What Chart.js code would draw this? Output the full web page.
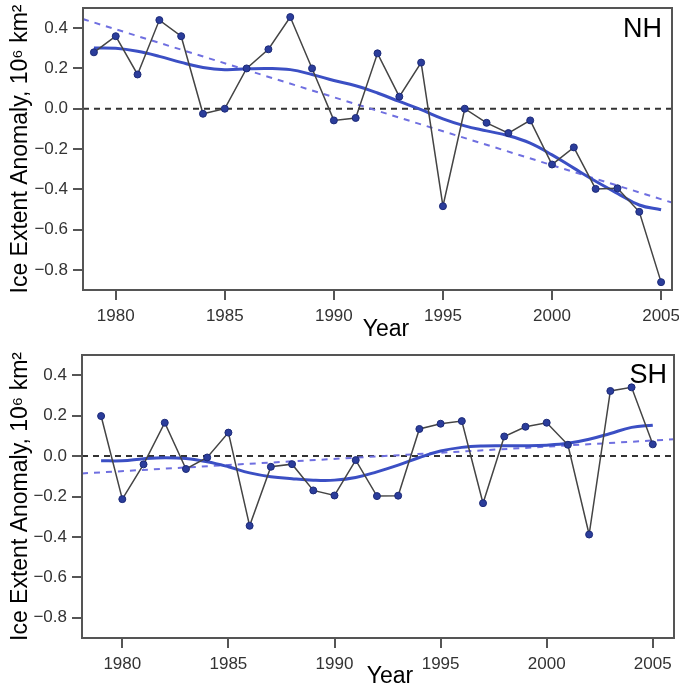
<!DOCTYPE html>
<html>
<head>
<meta charset="utf-8">
<script src="https://cdn.jsdelivr.net/npm/chart.js@4.4.1/dist/chart.umd.min.js"></script>
<style>
body { margin: 0; background: #fff; width: 679px; height: 684px; overflow: hidden; position: relative; }
canvas { position: absolute; left: 0; }
#nhChart { top: 0; }
#shChart { top: 340px; }
</style>
</head>
<body>
<canvas id="nhChart" width="679" height="340"></canvas>
<canvas id="shChart" width="679" height="344"></canvas>
<script>
var years = [1979, 1980, 1981, 1982, 1983, 1984, 1985, 1986, 1987, 1988, 1989, 1990, 1991, 1992,
	1993, 1994, 1995, 1996, 1997, 1998, 1999, 2000, 2001, 2002, 2003, 2004, 2005];

// northern hemisphere
var nhValues = [0.28, 0.36, 0.17, 0.44, 0.36, -0.025, 0.0, 0.20, 0.295, 0.455, 0.20, -0.058, -0.046, 0.275,
	0.06, 0.229, -0.484, 0.0, -0.07, -0.121, -0.058, -0.277, -0.192, -0.398, -0.395, -0.512, -0.861];
var nhSmooth = [0.302, 0.30, 0.285, 0.26, 0.23, 0.205, 0.194, 0.198, 0.20, 0.194, 0.17, 0.14, 0.114, 0.078,
	0.036, -0.005, -0.05, -0.085, -0.11, -0.134, -0.171, -0.229, -0.295, -0.36, -0.42, -0.478, -0.502];
var nhTrendYears = [1978.5, 2005.5];
var nhTrend = [0.445, -0.466];

// southern hemisphere
var shValues = [0.198, -0.213, -0.041, 0.165, -0.064, -0.007, 0.116, -0.345, -0.053, -0.04, -0.17, -0.195, -0.02, -0.198,
	-0.196, 0.134, 0.16, 0.173, -0.233, 0.097, 0.145, 0.165, 0.056, -0.388, 0.322, 0.34, 0.058];
var shSmooth = [-0.023, -0.023, -0.013, -0.008, -0.012, -0.028, -0.053, -0.083, -0.102, -0.112, -0.119, -0.119, -0.106, -0.078,
	-0.045, -0.007, 0.025, 0.043, 0.05, 0.051, 0.051, 0.054, 0.063, 0.083, 0.112, 0.142, 0.153];
var shTrendYears = [1978.1, 2006];
var shTrend = [-0.086, 0.083];

var yTicks = [-0.8, -0.6, -0.4, -0.2, 0.0, 0.2, 0.4];
var xTicks = [1980, 1985, 1990, 1995, 2000, 2005];
var yMin = -0.9;
var yMax = 0.5;

var FONT = '"Liberation Sans", Arial, Helvetica, sans-serif';

function toPoints(xs, ys) {
	var pts = [];
	for (var i = 0; i < xs.length; i++) {
		pts.push({x: xs[i], y: ys[i]});
	}
	return pts;
}

// box round the plot, panel name and the "Year" text
var framePlugin = {
	id: 'frame',
	afterDatasetsDraw: function(chart, args, opts) {
		var a = chart.chartArea;
		var ctx = chart.ctx;
		ctx.save();
		ctx.strokeStyle = '#555';
		ctx.lineWidth = 2;
		ctx.strokeRect(a.left, a.top, a.right - a.left, a.bottom - a.top);
		ctx.fillStyle = '#000';
		ctx.textBaseline = 'alphabetic';
		ctx.font = '27px ' + FONT;
		ctx.textAlign = 'right';
		ctx.fillText(opts.label, opts.labelX, opts.labelY);
		ctx.font = '23px ' + FONT;
		ctx.textAlign = 'center';
		ctx.fillText('Year', opts.yearX, opts.yearY);
		ctx.restore();
	}
};

function makePanel(id, p) {
	var ctx = document.getElementById(id).getContext('2d');
	return new Chart(ctx, {
		type: 'line',
		data: {
			datasets: [{
				data: toPoints(years, p.values),
				borderColor: '#444',
				borderWidth: 1.5,
				pointRadius: 3.5,
				pointBackgroundColor: '#2b3d9b',
				pointBorderColor: '#1c2a78',
				pointBorderWidth: 1,
				tension: 0
			}, {
				data: toPoints(years, p.smooth),
				borderColor: '#3b4fc4',
				borderWidth: 3,
				pointRadius: 0,
				tension: 0.4
			}, {
				data: toPoints(p.trendYears, p.trend),
				borderColor: '#6f6fe0',
				borderWidth: 2,
				borderDash: [6, 6],
				pointRadius: 0
			}, {
				data: toPoints(p.trendYears, [0, 0]),
				borderColor: '#333',
				borderWidth: 2,
				borderDash: [6, 5],
				pointRadius: 0
			}]
		},
		options: {
			responsive: false,
			animation: false,
			devicePixelRatio: 1,
			layout: {padding: {left: 0, top: p.top, right: p.right, bottom: 0}},
			plugins: {
				legend: {display: false},
				tooltip: {enabled: false},
				frame: {label: p.label, labelX: p.labelX, labelY: p.labelY, yearX: p.yearX, yearY: p.yearY}
			},
			scales: {
				x: {
					type: 'linear',
					min: p.trendYears[0],
					max: p.trendYears[1],
					afterBuildTicks: function(s) {
						s.ticks = xTicks.map(function(v) { return {value: v}; });
					},
					afterFit: function(s) {
						s.height = p.xHeight;
						s.paddingLeft = 0;
						s.paddingRight = 0;
					},
					grid: {drawOnChartArea: false, drawTicks: true, tickLength: 10, color: '#555', lineWidth: 2},
					border: {display: false},
					ticks: {
						color: '#333',
						padding: 6,
						maxRotation: 0,
						font: {size: 17, family: FONT},
						callback: function(v) { return String(v); }
					}
				},
				y: {
					type: 'linear',
					min: yMin,
					max: yMax,
					afterBuildTicks: function(s) {
						s.ticks = yTicks.map(function(v) { return {value: v}; });
					},
					afterFit: function(s) {
						s.width = p.yWidth;
						s.paddingTop = 0;
						s.paddingBottom = 0;
					},
					grid: {drawOnChartArea: false, drawTicks: true, tickLength: 10, color: '#555', lineWidth: 2},
					border: {display: false},
					title: {
						display: true,
						text: 'Ice Extent Anomaly, 10\u2076 km\u00b2',
						color: '#000',
						font: {size: 23, family: FONT, lineHeight: 1},
						padding: {top: 9, bottom: 0}
					},
					ticks: {
						color: '#333',
						padding: 5,
						font: {size: 17, family: FONT},
						callback: function(v) {
							if (Math.abs(v) < 1e-9) v = 0;
							return v.toFixed(1).replace('-', '\u2212');
						}
					}
				}
			}
		},
		plugins: [framePlugin]
	});
}

makePanel('nhChart', {
	values: nhValues, smooth: nhSmooth, trendYears: nhTrendYears, trend: nhTrend,
	top: 8, right: 7, yWidth: 83, xHeight: 50,
	label: 'NH', labelX: 662, labelY: 37, yearX: 386, yearY: 336
});

makePanel('shChart', {
	values: shValues, smooth: shSmooth, trendYears: shTrendYears, trend: shTrend,
	top: 15, right: 5, yWidth: 82, xHeight: 46,
	label: 'SH', labelX: 667, labelY: 43, yearX: 390, yearY: 343
});
</script>
</body>
</html>
